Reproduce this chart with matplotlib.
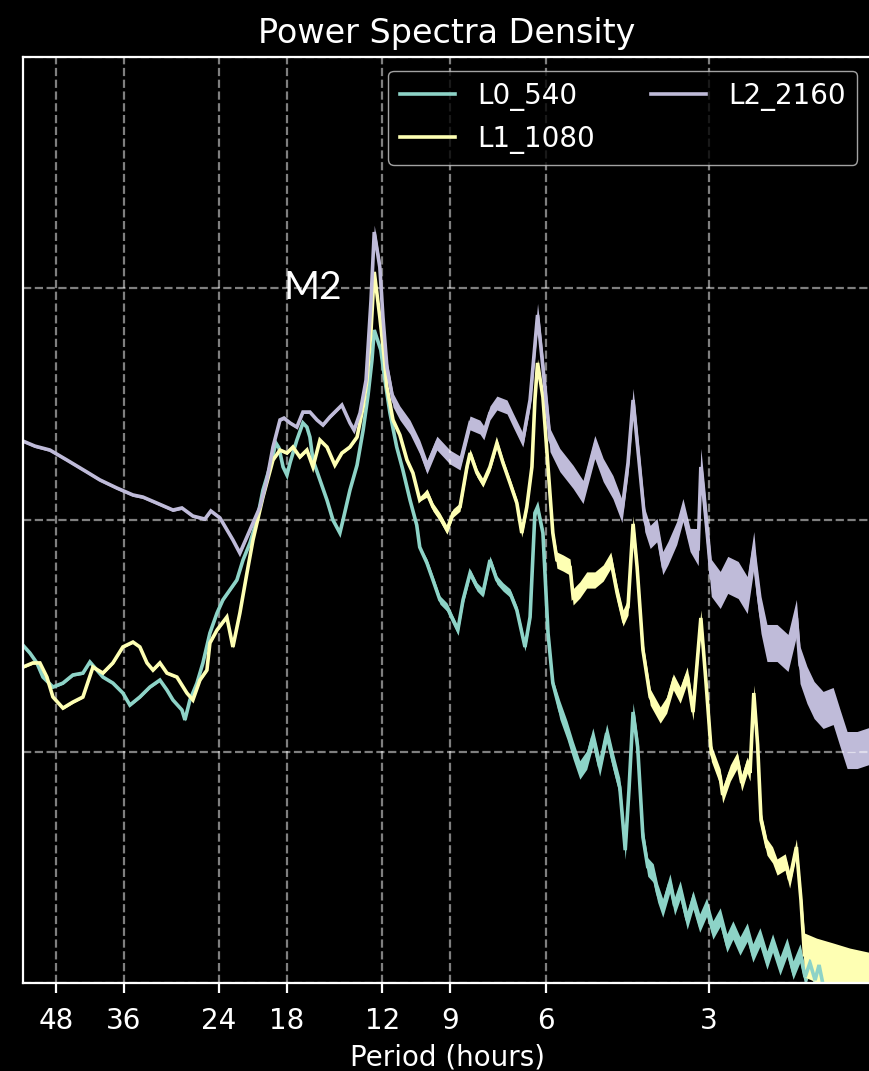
import numpy as np
import matplotlib
matplotlib.use("Agg")
import matplotlib.pyplot as plt
from matplotlib.ticker import NullLocator

plt.style.use("dark_background")

# ---------------------------------------------------------------------------
# Spectra: period in hours, power spectral density in dB (10*log10 PSD)
# ---------------------------------------------------------------------------
l0_period = [55.2, 53.57, 52.00, 50.68, 48.58, 46.56, 44.63, 42.77, 41.52, 40.31,
             39.29, 37.66, 36.10, 35.04, 33.59, 32.18, 30.85, 29.94, 29.19, 28.10,
             27.74, 27.16, 26.36, 25.70, 24.95, 24.21, 23.61, 22.92, 22.25, 21.68,
             21.05, 20.43, 19.92, 19.34, 18.85, 18.61, 18.29, 17.99, 17.76, 17.25,
             16.81, 16.53, 16.32, 16.11, 15.64, 15.18, 14.80, 14.37, 14.18, 13.77,
             13.36, 13.02, 12.75, 12.54, 12.42, 12.08, 11.87, 11.62, 11.29, 11.00,
             10.67, 10.37, 10.24, 9.93, 9.68, 9.40, 9.12, 8.89, 8.71, 8.52,
             8.27, 8.03, 7.83, 7.60, 7.38, 7.19, 6.98, 6.78, 6.55, 6.41,
             6.28, 6.21, 6.07, 5.94, 5.82, 5.65, 5.48, 5.34, 5.19, 5.04,
             4.91, 4.77, 4.63, 4.51, 4.38, 4.28, 4.213, 4.14, 4.06, 3.97,
             3.89, 3.80, 3.73, 3.65, 3.54, 3.47, 3.39, 3.29, 3.21, 3.12,
             3.03, 2.95, 2.86, 2.78, 2.71, 2.63, 2.55, 2.49, 2.416, 2.345,
             2.29, 2.219, 2.154, 2.099, 2.038, 1.995, 1.954, 1.912, 1.880, 1.832]
l0_db = [-15.40, -15.74, -16.17, -16.78, -17.21, -17.04, -16.69, -16.61, -16.13, -16.48,
         -16.78, -17.04, -17.47, -17.99, -17.64, -17.21, -16.91, -17.34, -17.77, -18.20,
         -18.63, -17.77, -17.04, -16.17, -14.88, -14.02, -13.45, -13.02, -12.59, -11.73,
         -10.99, -10.00, -8.71, -7.71, -6.68, -6.89, -7.71, -8.06, -7.54, -6.55,
         -5.81, -5.99, -6.42, -7.41, -8.27, -9.14, -10.00, -10.56, -10.00, -8.71,
         -7.63, -6.12, -4.60, -3.09, -1.80, -2.66, -3.96, -5.38, -6.85, -7.84,
         -9.14, -10.22, -11.17, -11.86, -12.59, -13.45, -13.76, -14.32, -14.75, -13.45,
         -12.29, -12.89, -13.15, -11.73, -12.59, -12.89, -13.15, -13.89, -15.48, -14.19,
         -9.70, -9.44, -10.56, -14.88, -17.04, -18.20, -19.07, -19.93, -20.79, -20.36,
         -19.37, -20.66, -19.20, -20.36, -21.53, -24.25, -21.66, -18.29, -19.80, -23.69,
         -24.98, -25.24, -26.10, -26.75, -25.67, -26.66, -25.97, -27.27, -26.40, -27.40,
         -26.71, -27.70, -27.14, -28.26, -27.70, -28.39, -27.79, -28.69, -28.00, -29.00,
         -28.26, -29.25, -28.43, -29.43, -28.69, -29.73, -29.12, -29.86, -29.21, -30.51]

l1_period = [55.2, 52.89, 51.34, 49.84, 48.58, 46.56, 44.63, 42.77, 40.99, 39.29,
             37.66, 36.10, 34.59, 33.59, 32.59, 31.77, 30.85, 29.94, 28.70, 27.51,
             26.82, 26.03, 25.27, 24.95, 24.21, 23.22, 22.63, 21.97, 21.32, 20.78,
             19.92, 19.09, 18.53, 17.99, 17.54, 17.03, 16.53, 16.11, 15.64, 15.18,
             14.68, 14.25, 13.77, 13.36, 13.02, 12.81, 12.59, 12.42, 12.13, 11.92,
             11.77, 11.47, 11.14, 10.81, 10.54, 10.24, 9.93, 9.68, 9.40, 9.12,
             8.89, 8.63, 8.38, 8.27, 8.03, 7.83, 7.60, 7.38, 7.19, 6.98,
             6.78, 6.64, 6.50, 6.36, 6.28, 6.21, 6.07, 5.94, 5.82, 5.72,
             5.57, 5.41, 5.34, 5.19, 5.04, 4.87, 4.70, 4.55, 4.43, 4.32,
             4.23, 4.14, 4.07, 3.97, 3.85, 3.69, 3.59, 3.49, 3.39, 3.29,
             3.21, 3.105, 3.04, 2.97, 2.86, 2.83, 2.74, 2.66, 2.61, 2.55,
             2.52, 2.48, 2.44, 2.405, 2.345, 2.29, 2.247, 2.17, 2.13, 2.07,
             2.03, 2.00, 1.90, 1.771, 1.65, 1.50]
l1_db = [-16.35, -16.17, -16.17, -16.78, -17.64, -18.12, -17.86, -17.64, -16.35, -16.61,
         -16.17, -15.48, -15.27, -15.48, -16.17, -16.48, -16.17, -16.61, -16.78, -17.47,
         -17.77, -16.91, -16.48, -15.31, -14.75, -14.19, -15.48, -14.02, -12.29, -10.86,
         -9.01, -7.41, -6.98, -7.11, -6.85, -7.28, -6.98, -7.71, -6.55, -6.85,
         -7.63, -7.11, -6.85, -6.42, -5.12, -3.96, -1.80, 0.71, -1.24, -2.88,
         -4.26, -5.68, -6.33, -7.41, -7.97, -9.14, -8.83, -9.44, -9.87, -10.43,
         -9.70, -9.44, -7.71, -7.11, -7.97, -8.40, -7.71, -6.68, -7.54, -8.40,
         -9.27, -10.56, -9.44, -7.71, -4.82, -3.22, -4.69, -7.71, -10.56, -11.73,
         -11.86, -12.03, -13.32, -13.02, -12.59, -12.59, -12.29, -11.73, -13.15, -14.23,
         -13.76, -10.17, -12.03, -15.61, -17.64, -18.42, -17.99, -16.99, -17.56, -16.69,
         -18.29, -14.23, -16.91, -20.06, -21.10, -21.87, -20.92, -20.36, -21.35, -20.58,
         -20.92, -17.47, -19.71, -22.95, -24.12, -24.46, -24.98, -24.76, -25.54, -24.12,
         -26.40, -28.78, -29.00, -29.21, -29.43, -29.64]

l2_period = [55.2, 52.44, 49.21, 45.79, 42.05, 39.80, 37.03, 34.59, 33.16, 31.24,
             29.19, 28.10, 26.82, 25.49, 24.85, 23.91, 22.63, 21.97, 21.32, 20.78,
             20.17, 19.59, 19.09, 18.53, 18.22, 17.76, 17.25, 16.81, 16.32, 15.84,
             15.44, 14.99, 14.25, 13.77, 13.53, 13.19, 12.86, 12.59, 12.42, 12.13,
             11.97, 11.77, 11.47, 11.14, 10.67, 10.24, 9.93, 9.52, 9.01, 8.63,
             8.27, 7.93, 7.80, 7.60, 7.38, 7.07, 6.89, 6.61, 6.41, 6.21,
             6.07, 5.89, 5.65, 5.34, 5.12, 4.87, 4.70, 4.51, 4.34, 4.23,
             4.14, 4.06, 3.94, 3.85, 3.74, 3.65, 3.57, 3.44, 3.35, 3.25,
             3.14, 3.105, 3.05, 2.97, 2.86, 2.77, 2.65, 2.55, 2.48, 2.457,
             2.405, 2.345, 2.247, 2.145, 2.07, 2.038, 1.979, 1.920, 1.848, 1.771,
             1.720, 1.669, 1.600, 1.50]
l2_db = [-6.59, -6.81, -6.98, -7.41, -7.93, -8.27, -8.62, -8.92, -9.01, -9.27,
         -9.57, -9.48, -9.83, -9.96, -9.61, -9.91, -10.86, -11.43, -10.73, -10.13,
         -9.44, -8.27, -6.85, -5.68, -5.60, -5.81, -5.99, -5.34, -5.34, -5.68,
         -5.90, -5.55, -5.04, -5.81, -6.12, -5.38, -3.96, -0.50, 2.43, 0.92,
         -1.24, -3.40, -4.82, -5.38, -5.99, -6.85, -7.71, -6.68, -7.28, -7.54,
         -5.81, -5.99, -6.24, -5.38, -4.95, -5.12, -5.68, -6.55, -4.82, -1.15,
         -3.40, -6.55, -7.41, -8.14, -8.79, -6.85, -7.84, -8.58, -9.61, -7.54,
         -4.82, -6.85, -10.00, -10.73, -10.43, -11.86, -11.43, -10.56, -9.57, -10.86,
         -11.17, -7.71, -9.57, -12.50, -13.02, -12.37, -12.59, -13.24, -11.30, -12.37,
         -14.10, -15.31, -15.31, -15.74, -14.23, -16.26, -17.12, -17.77, -18.20, -18.03,
         -18.98, -19.93, -19.93, -19.71]

# Spread of the high-frequency scatter (half-width in dB) per period band.
# Band edges are in hours; widths run from the shortest periods upward.
l0_noise_edges = [5.8, 10.0]
l0_noise_db = [0.40, 0.18, 0.05]
l1_noise_edges = [2.02, 5.8, 10.0]
l1_noise_db = [0.95, 0.35, 0.18, 0.05]
l2_noise_edges = [3.2, 6.3, 13.0]
l2_noise_db = [0.80, 0.50, 0.30, 0.06]

series_labels = ["L0_540", "L1_1080", "L2_2160"]
series_colors = ["#8dd3c7", "#feffb3", "#bfbbd9"]

period_ticks = [48, 36, 24, 18, 12, 9, 6, 3]
period_limits = (55.16, 1.508)
db_limits = (-30.0, 10.0)
db_grid = [-30.0, -20.0, -10.0, 0.0, 10.0]

# ---------------------------------------------------------------------------
W, H = 869, 1071
fig = plt.figure(figsize=(W / 100, H / 100), dpi=100, facecolor="black")
ax = fig.add_axes([23 / W, (H - 983.3) / H, (871 - 23) / W, (983.3 - 56.7) / H])
ax.set_facecolor("black")


def to_psd(db):
    return 10.0 ** (np.asarray(db) / 10.0)


spectra = [
    (l0_period, l0_db, l0_noise_edges, l0_noise_db),
    (l1_period, l1_db, l1_noise_edges, l1_noise_db),
    (l2_period, l2_db, l2_noise_edges, l2_noise_db),
]

for (per, db, edges, widths), label, color in zip(spectra, series_labels, series_colors):
    per = np.asarray(per)
    db = np.asarray(db)
    hw = np.asarray(widths)[np.digitize(per, edges)]
    ax.fill_between(per, to_psd(db - hw), to_psd(db + hw), color=color, lw=0)
    ax.plot(per, to_psd(db), color=color, lw=2.6, label=label, solid_joinstyle="miter")

ax.set_xscale("log")
ax.set_yscale("log")
ax.set_xlim(*period_limits)
ax.set_ylim(to_psd(db_limits[0]), to_psd(db_limits[1]))

ax.set_xticks(period_ticks, labels=[str(t) for t in period_ticks])
ax.xaxis.set_minor_locator(NullLocator())
ax.set_yticks(to_psd(db_grid))
ax.yaxis.set_minor_locator(NullLocator())

ax.tick_params(axis="x", which="major", length=7, width=1.6, pad=10,
               labelsize=20, colors="white")
ax.tick_params(axis="y", which="both", left=False, labelleft=False)

ax.grid(True, which="major", color="white", alpha=0.5, linestyle="--", linewidth=1.6)

for side in ("left", "top", "bottom"):
    ax.spines[side].set_color("white")
    ax.spines[side].set_linewidth(1.6)
ax.spines["right"].set_visible(False)

ax.set_title("Power Spectra Density", fontsize=24, pad=10, color="white")
ax.set_xlabel("Period (hours)", fontsize=20, labelpad=6, color="white")

ax.text(16.1, 1.0, "M2", fontsize=28, family="Lato", color="white",
        ha="center", va="center")

leg = ax.legend(loc="upper right", ncol=2, fontsize=20, frameon=True)
for line in leg.get_lines():
    line.set_linewidth(2.6)

fig.savefig("out.png", dpi=100, facecolor="black")
